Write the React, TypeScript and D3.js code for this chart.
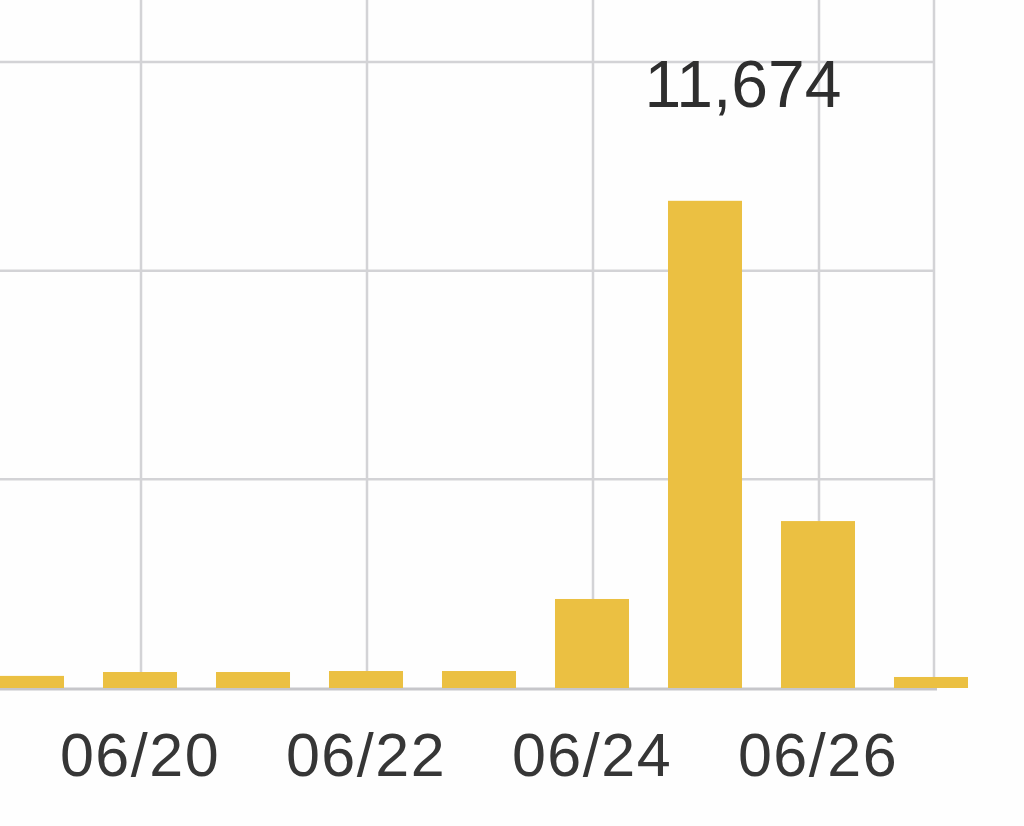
import React from "react";
import * as d3 from "d3";

const dates = ["06/19", "06/20", "06/21", "06/22", "06/23", "06/24", "06/25", "06/26", "06/27"];
const views = [290, 383, 383, 407, 407, 2133, 11674, 4000, 264];
const yTicks = [5000, 10000, 15000];
const xTickLabels = ["06/20", "06/22", "06/24", "06/26"];
const highlight = "06/25";

const W = 1024;
const H = 826;

export default function App() {
  const baseY = 688;
  const plotRight = 934;
  const x = d3
    .scaleBand<string>()
    .domain(dates)
    .range([-29.5, 987.5])
    .paddingInner(0.345)
    .paddingOuter(0.1725);
  const y = d3.scaleLinear().domain([0, 15000]).range([baseY, 62]);
  const cx = (d: string) => (x(d) as number) + x.bandwidth() / 2;
  const fmt = d3.format(",");
  const font = "'Liberation Sans', Arial, Helvetica, sans-serif";
  const hv = views[dates.indexOf(highlight)];

  return (
    <div style={{ position: "absolute", left: 0, top: 0 }}>
      <svg width={W} height={H} style={{ display: "block", background: "#fefefe" }}>
        {yTicks.map((t) => (
          <line key={t} x1={0} x2={plotRight} y1={y(t)} y2={y(t)} stroke="#d3d3d6" strokeWidth={2.5} />
        ))}
        {xTickLabels.map((d) => (
          <line key={d} x1={cx(d) + 1} x2={cx(d) + 1} y1={0} y2={baseY} stroke="#d3d3d6" strokeWidth={2.5} />
        ))}
        <line x1={plotRight} x2={plotRight} y1={0} y2={baseY} stroke="#d3d3d6" strokeWidth={2.5} />
        <line x1={0} x2={plotRight + 3} y1={baseY + 1} y2={baseY + 1} stroke="#c6c6ca" strokeWidth={3} />
        {dates.map((d, i) => (
          <rect
            key={d}
            x={x(d)}
            y={y(views[i])}
            width={x.bandwidth()}
            height={baseY - y(views[i])}
            fill="#ebc042"
          />
        ))}
        {xTickLabels.map((d) => (
          <text
            key={d}
            x={cx(d)}
            y={776}
            textAnchor="middle"
            fontFamily={font}
            fontSize={61}
            letterSpacing={1.5}
            fill="#363636"
          >
            {d}
          </text>
        ))}
        <text
          x={cx(highlight) + 38}
          y={107}
          textAnchor="middle"
          fontFamily={font}
          fontSize={66}
          fill="#2e2e2e"
        >
          {fmt(hv)}
        </text>
      </svg>
    </div>
  );
}
